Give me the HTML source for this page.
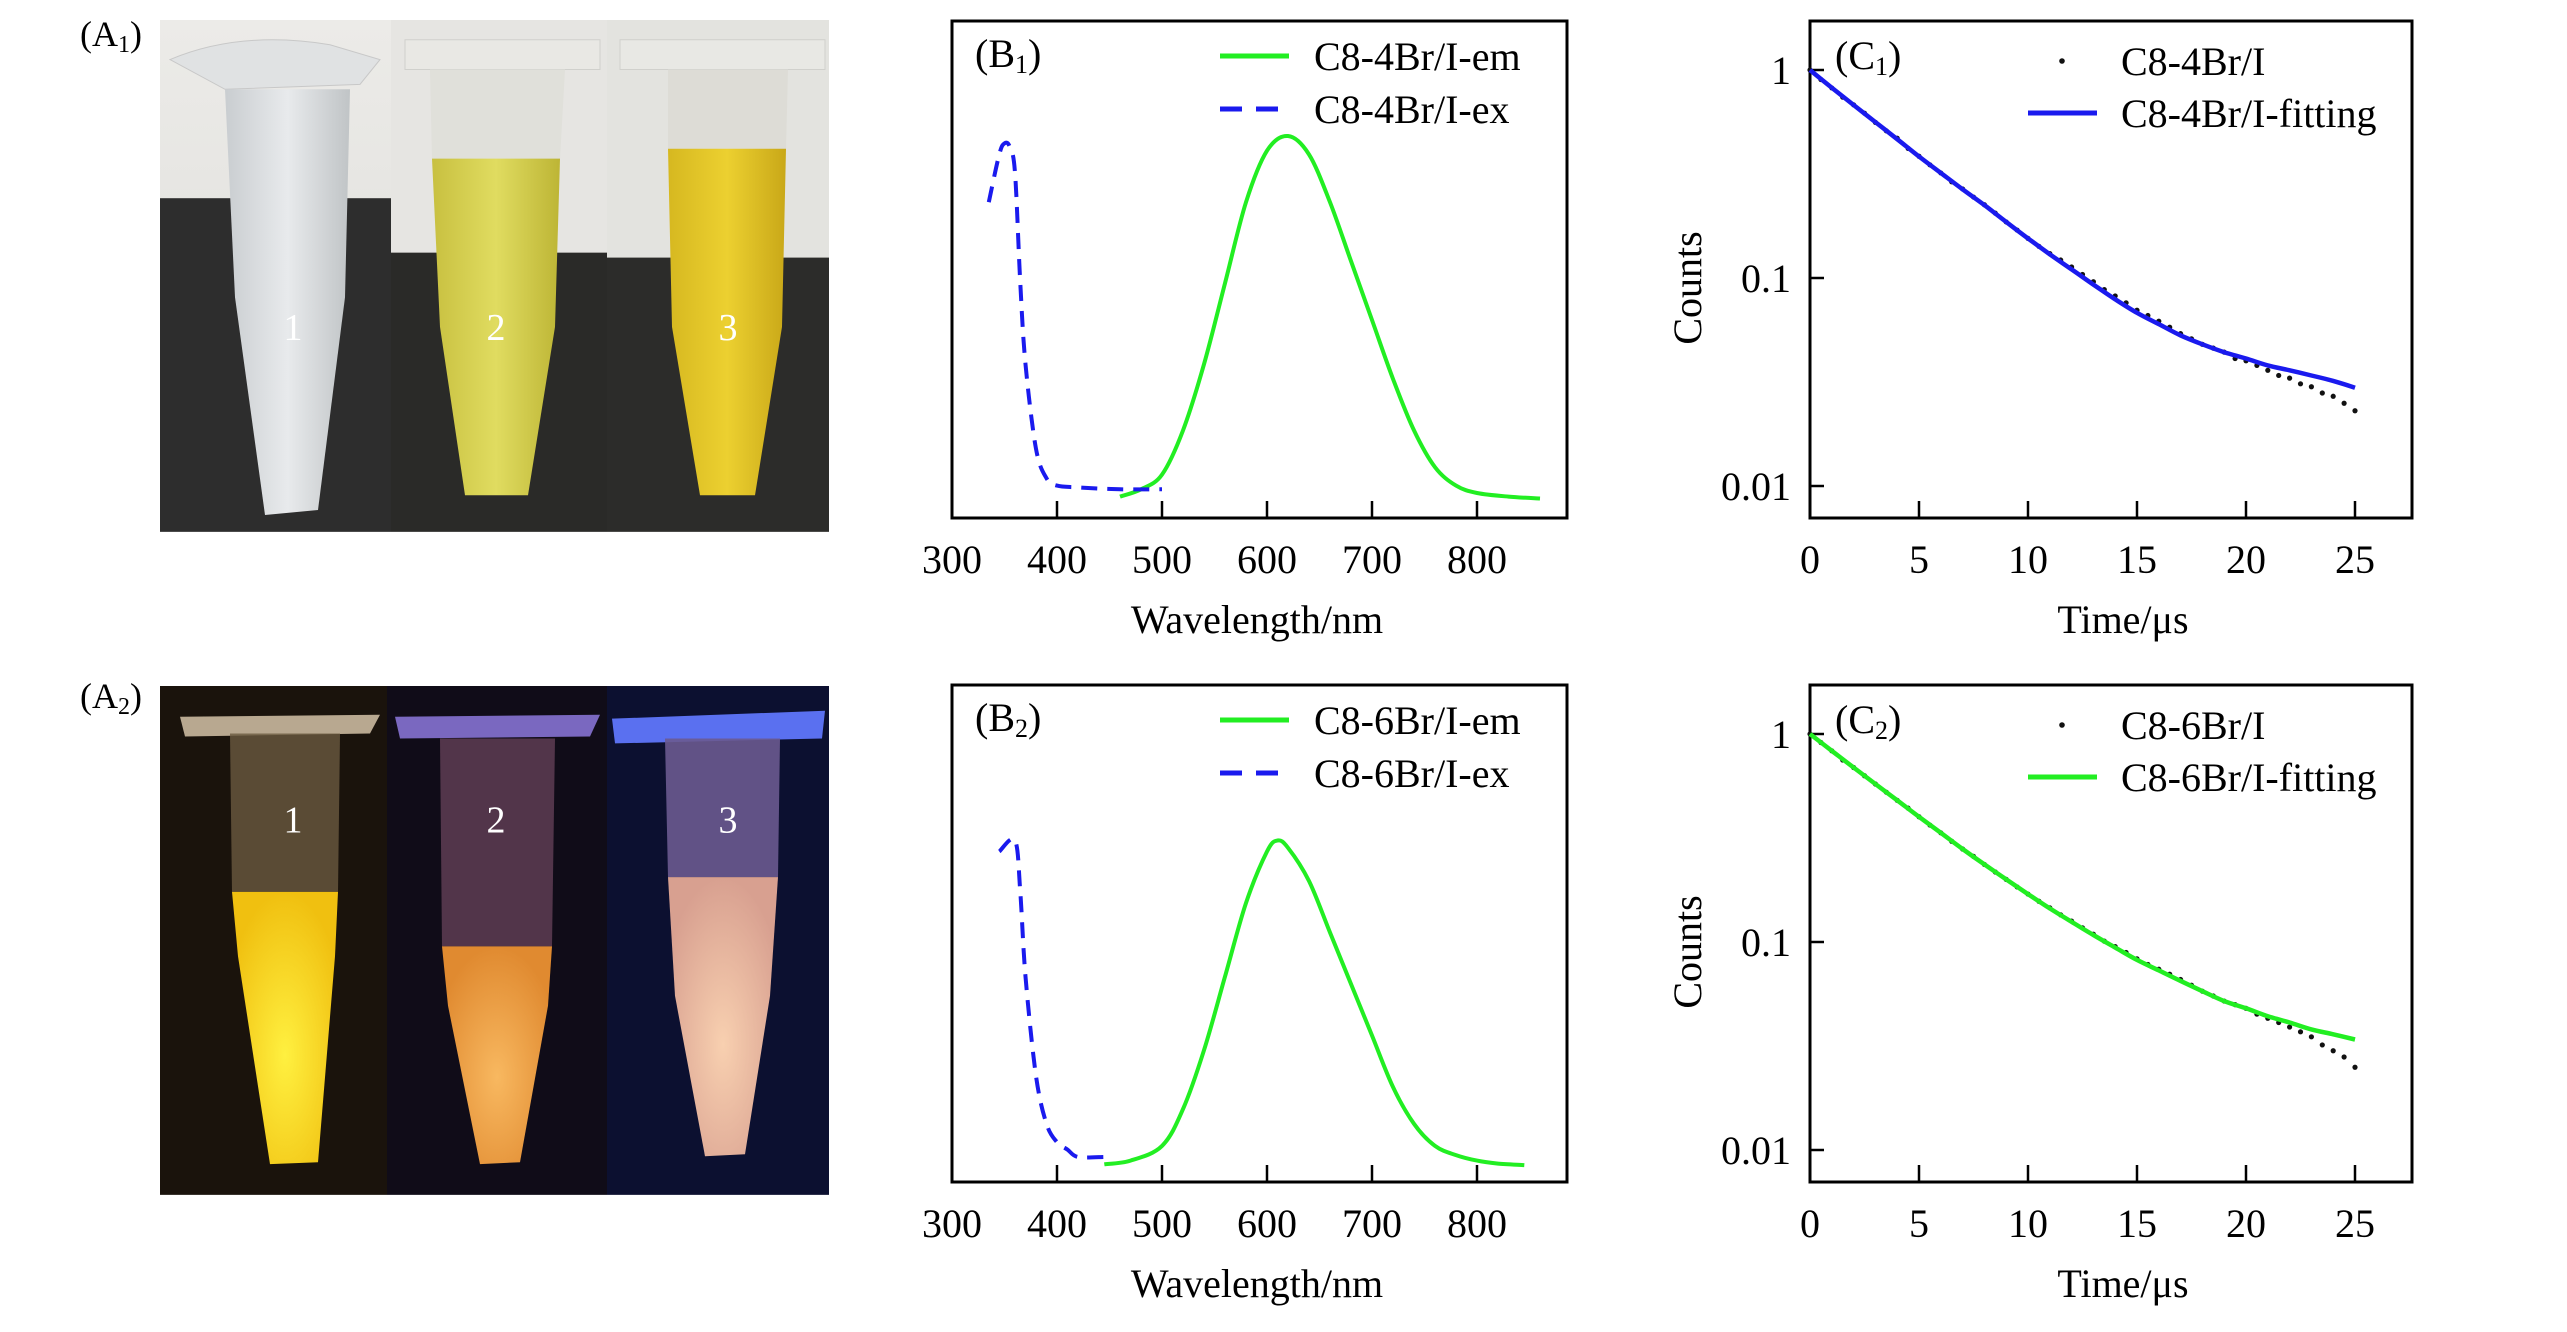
<!DOCTYPE html>
<html><head><meta charset="utf-8"><style>
html,body{margin:0;padding:0;background:#fff;}
svg{display:block;font-family:"Liberation Serif","Times New Roman",serif;}
</style></head><body>
<svg id="fig" width="2567" height="1332" viewBox="0 0 2567 1332" xmlns="http://www.w3.org/2000/svg">
<defs>
<linearGradient id="wall" x1="0" y1="0" x2="0" y2="1"><stop offset="0" stop-color="#ecebe8"/><stop offset="1" stop-color="#dcdcd8"/></linearGradient>
<linearGradient id="clear" x1="0" y1="0" x2="1" y2="0"><stop offset="0" stop-color="#c9cdd0"/><stop offset=".5" stop-color="#e8eaec"/><stop offset="1" stop-color="#c0c4c6"/></linearGradient>
<linearGradient id="yel" x1="0" y1="0" x2="1" y2="0"><stop offset="0" stop-color="#c8c040"/><stop offset=".5" stop-color="#e0dc60"/><stop offset="1" stop-color="#bdb535"/></linearGradient>
<linearGradient id="yel2" x1="0" y1="0" x2="1" y2="0"><stop offset="0" stop-color="#d6b820"/><stop offset=".5" stop-color="#ecd030"/><stop offset="1" stop-color="#c9a818"/></linearGradient>
<radialGradient id="glowY" cx=".5" cy=".6" r=".6"><stop offset="0" stop-color="#fff040"/><stop offset="1" stop-color="#f0c010"/></radialGradient>
<radialGradient id="glowO" cx=".5" cy=".6" r=".6"><stop offset="0" stop-color="#f8b860"/><stop offset="1" stop-color="#e08a30"/></radialGradient>
<radialGradient id="glowP" cx=".5" cy=".6" r=".6"><stop offset="0" stop-color="#f8d0b0"/><stop offset="1" stop-color="#d8a090"/></radialGradient>
</defs>

<g>
<text x="80" y="46" font-size="36">(A<tspan font-size="24" dy="6">1</tspan><tspan dy="-6">)</tspan></text>
<g transform="translate(160 20) scale(1 0.99) translate(-160 -20)">
<rect x="160" y="20" width="231" height="517" fill="url(#wall)"/>
<rect x="160" y="200" width="231" height="337" fill="#2d2d2d"/>
<rect x="391" y="20" width="216" height="517" fill="#e6e5e2"/>
<rect x="391" y="255" width="216" height="282" fill="#2a2a28"/>
<rect x="607" y="20" width="222" height="517" fill="#e3e3df"/>
<rect x="607" y="260" width="222" height="277" fill="#2c2c2a"/>
<path d="M170 60 Q240 30 330 45 L380 60 L360 85 L225 90 Z" fill="#e0e2e3" stroke="#c8c8c8"/>
<path d="M225 90 L350 90 L345 300 L318 515 L265 520 L235 300 Z" fill="url(#clear)"/>
<path d="M405 40 L600 40 L600 70 L405 70 Z" fill="#e9e8e4" stroke="#d0d0cc"/>
<path d="M430 70 L565 70 L560 160 L432 160 Z" fill="#e0e0da"/>
<path d="M432 160 L560 160 L555 330 L528 500 L465 500 L440 330 Z" fill="url(#yel)"/>
<path d="M620 40 L825 40 L825 70 L620 70 Z" fill="#e8e8e4" stroke="#d0d0cc"/>
<path d="M668 70 L788 70 L786 150 L668 150 Z" fill="#dddcd6"/>
<path d="M668 150 L786 150 L782 330 L755 500 L700 500 L672 330 Z" fill="url(#yel2)"/>
<text x="293" y="343" font-size="38" fill="#fff" text-anchor="middle">1</text>
<text x="496" y="343" font-size="38" fill="#fff" text-anchor="middle">2</text>
<text x="728" y="343" font-size="38" fill="#fff" text-anchor="middle">3</text>
</g>
</g>
<g>
<text x="80" y="708" font-size="36">(A<tspan font-size="24" dy="6">2</tspan><tspan dy="-6">)</tspan></text>
<g transform="translate(160 686) scale(1 0.99) translate(-160 -687)">
<rect x="160" y="687" width="227" height="514" fill="#1a130c"/>
<rect x="387" y="687" width="220" height="514" fill="#100c18"/>
<rect x="607" y="687" width="222" height="514" fill="#0c1030"/>
<path d="M180 718 L380 716 L370 735 L185 738 Z" fill="#b8a890"/>
<path d="M230 735 L340 735 L338 895 L232 895 Z" fill="#6a5a40" opacity=".8"/>
<path d="M232 895 L338 895 L335 960 L318 1168 L270 1170 L238 960 Z" fill="url(#glowY)"/>
<path d="M395 718 L600 716 L590 738 L400 740 Z" fill="#7a68c0"/>
<path d="M440 740 L555 740 L552 950 L442 950 Z" fill="#5a3a50" opacity=".9"/>
<path d="M442 950 L552 950 L548 1010 L520 1168 L480 1170 L448 1010 Z" fill="url(#glowO)"/>
<path d="M612 720 L825 712 L822 740 L615 745 Z" fill="#5a70f0"/>
<path d="M665 740 L780 740 L778 880 L668 880 Z" fill="#6a5a90" opacity=".9"/>
<path d="M668 880 L778 880 L770 1000 L745 1160 L705 1162 L675 1000 Z" fill="url(#glowP)"/>
<text x="293" y="835" font-size="38" fill="#fff" text-anchor="middle">1</text>
<text x="496" y="835" font-size="38" fill="#fff" text-anchor="middle">2</text>
<text x="728" y="835" font-size="38" fill="#fff" text-anchor="middle">3</text>
</g>
</g>
<g id="charts" transform="translate(5 1)"></g>
</svg>
<script>
const emWl1 = [460,480,500,520,540,560,580,600,620,640,660,680,700,720,740,760,780,800,830,860];
const emI1  = [0.02,0.04,0.08,0.2,0.38,0.6,0.82,0.96,1.0,0.95,0.82,0.66,0.5,0.34,0.2,0.1,0.05,0.03,0.02,0.015];
const exWl1 = [335,345,350,355,360,365,370,380,390,400,420,460,500];
const exI1  = [0.82,0.95,0.98,0.97,0.9,0.6,0.38,0.15,0.07,0.05,0.045,0.04,0.04];
const emWl2 = [445,470,500,520,540,560,580,600,610,620,640,660,680,700,720,740,760,780,800,820,845];
const emI2  = [0.01,0.02,0.06,0.16,0.32,0.52,0.72,0.86,0.89,0.87,0.78,0.64,0.5,0.36,0.22,0.12,0.06,0.035,0.02,0.012,0.008];
const exWl2 = [345,360,365,370,380,390,400,410,420,445];
const exI2  = [0.86,0.89,0.75,0.52,0.25,0.12,0.07,0.05,0.03,0.03];
const bTicks = [300,400,500,600,700,800];
const fitT = [0,1,2,3,4,5,6,7,8,9,10,11,12,13,14,15,16,17,18,19,20,21,22,23,24,25];
const fit1 = [1,0.822,0.679,0.562,0.465,0.384,0.32,0.267,0.224,0.186,0.155,0.13,0.11,0.093,0.079,0.068,0.06,0.053,0.048,0.044,0.041,0.038,0.036,0.034,0.032,0.0297];
const fit2 = [1,0.83,0.69,0.575,0.48,0.4,0.335,0.28,0.236,0.2,0.17,0.145,0.125,0.108,0.094,0.082,0.073,0.065,0.058,0.052,0.048,0.044,0.041,0.038,0.036,0.034];
const ptsT = [0,0.5,1,1.5,2,2.5,3,3.5,4,4.5,5,5.5,6,6.5,7,7.5,8,8.5,9,9.5,10,10.5,11,11.5,12,12.5,13,13.5,14,14.5,15,15.5,16,16.5,17,17.5,18,18.5,19,19.5,20,20.5,21,21.5,22,22.5,23,23.5,24,24.5,25];
const pts1 = [1.0,0.9,0.82,0.74,0.68,0.62,0.56,0.51,0.47,0.42,0.385,0.35,0.32,0.29,0.268,0.245,0.225,0.205,0.186,0.17,0.155,0.142,0.131,0.122,0.113,0.104,0.096,0.088,0.082,0.076,0.07,0.066,0.062,0.058,0.054,0.051,0.048,0.046,0.044,0.041,0.04,0.038,0.036,0.034,0.033,0.031,0.03,0.028,0.027,0.025,0.023];
const pts2 = [1.0,0.91,0.83,0.75,0.69,0.63,0.575,0.525,0.48,0.44,0.4,0.365,0.335,0.305,0.28,0.258,0.236,0.217,0.2,0.184,0.17,0.157,0.146,0.135,0.126,0.117,0.109,0.101,0.095,0.089,0.083,0.078,0.074,0.07,0.066,0.062,0.058,0.055,0.052,0.05,0.048,0.045,0.043,0.041,0.039,0.037,0.035,0.032,0.03,0.028,0.025];
const cXTicks = [0,5,10,15,20,25];
const cYTicks = [1,0.1,0.01];
const cYLabels = ["1","0.1","0.01"];

const NS = "http://www.w3.org/2000/svg";
const root = document.getElementById('charts');
function mk(tag, attrs, parent){const e=document.createElementNS(NS,tag);for(const k in attrs)e.setAttribute(k,attrs[k]);(parent||root).appendChild(e);return e;}
function smooth(P){
  let d='M'+P[0][0].toFixed(1)+' '+P[0][1].toFixed(1);
  for(let i=0;i<P.length-1;i++){
    const p0=P[Math.max(0,i-1)],p1=P[i],p2=P[i+1],p3=P[Math.min(P.length-1,i+2)];
    const c1=[p1[0]+(p2[0]-p0[0])/6,p1[1]+(p2[1]-p0[1])/6];
    const c2=[p2[0]-(p3[0]-p1[0])/6,p2[1]-(p3[1]-p1[1])/6];
    d+=' C'+c1[0].toFixed(1)+' '+c1[1].toFixed(1)+' '+c2[0].toFixed(1)+' '+c2[1].toFixed(1)+' '+p2[0].toFixed(1)+' '+p2[1].toFixed(1);
  }
  return d;
}

function drawB(oy, idx, emW, emV, exW, exV, emName, exName){
  const g = mk('g',{});
  
  
  const L=947,R=1562,T=20+oy,B=517+oy;
  const x = nm => L + (nm-300)*1.05;
  const y = v => oy + 503 - v*368;
  const box = mk('rect',{x:L,y:T,width:R-L,height:B-T,fill:'none',stroke:'#000','stroke-width':3},g);
  
  
  bTicks.forEach(t=>{
    if(t>300){const tk=mk('line',{x1:x(t),x2:x(t),y1:B,y2:B-17,stroke:'#000','stroke-width':2.5},g);
    
    }
    const lb=mk('text',{x:x(t),y:B+55,'font-size':40,'text-anchor':'middle'},g);lb.textContent=t;
    
    
  });
  const at=mk('text',{x:1252,y:B+115,'font-size':40,'text-anchor':'middle'},g);at.textContent='Wavelength/nm';
  
  
  const em=mk('path',{d:smooth(emW.map((w,i)=>[x(w),y(emV[i])])),fill:'none',stroke:'#22ee22','stroke-width':4,'stroke-linejoin':'round'},g);
  
  
  const ex=mk('path',{d:smooth(exW.map((w,i)=>[x(w),y(exV[i])])),fill:'none',stroke:'#1a1aee','stroke-width':4,'stroke-dasharray':'16 10'},g);
  
  
  const pl=mk('text',{x:970,y:T+46,'font-size':40},g);pl.innerHTML='(B<tspan font-size="26" dy="6">'+idx+'</tspan><tspan dy="-6">)</tspan>';
  
  
  const l1=mk('line',{x1:1215,x2:1284,y1:T+35,y2:T+35,stroke:'#22ee22','stroke-width':5},g);
  
  
  const t1=mk('text',{x:1309,y:T+49,'font-size':40},g);t1.textContent=emName;
  
  
  const l2=mk('line',{x1:1215,x2:1284,y1:T+88,y2:T+88,stroke:'#1a1aee','stroke-width':5,'stroke-dasharray':'22 14'},g);
  
  
  const t2=mk('text',{x:1309,y:T+102,'font-size':40},g);t2.textContent=exName;
  
  
}

function drawC(oy, idx, pts, fit, color, ptName, fitName){
  const g = mk('g',{});
  
  
  const L=1805,R=2407,T=20+oy,B=517+oy;
  const x = t => L + t*21.8;
  const y = v => oy + 69 - Math.log10(v)*208;
  const box=mk('rect',{x:L,y:T,width:R-L,height:B-T,fill:'none',stroke:'#000','stroke-width':3},g);
  
  
  cXTicks.forEach(t=>{
    if(t>0){const tk=mk('line',{x1:x(t),x2:x(t),y1:B,y2:B-17,stroke:'#000','stroke-width':2.5},g);
    
    }
    const lb=mk('text',{x:x(t),y:B+55,'font-size':40,'text-anchor':'middle'},g);lb.textContent=t;
    
    
  });
  cYTicks.forEach((v,i)=>{
    const tk=mk('line',{x1:L,x2:L+14,y1:y(v),y2:y(v),stroke:'#000','stroke-width':2.5},g);
    
    
    const lb=mk('text',{x:1786,y:y(v)+14,'font-size':40,'text-anchor':'end'},g);lb.textContent=cYLabels[i];
    
    
  });
  const xt=mk('text',{x:2118,y:B+115,'font-size':40,'text-anchor':'middle'},g);xt.textContent='Time/\u03bcs';
  
  
  const yt=mk('text',{x:0,y:0,'font-size':40,'text-anchor':'middle',transform:'translate(1696 '+(287+oy)+') rotate(-90)'},g);yt.textContent='Counts';
  
  
  ptsT.forEach((t,i)=>{
    const c=mk('circle',{cx:x(t),cy:y(pts[i]),r:2.6,fill:'#111'},g);
    
    
  });
  const fl=mk('path',{d:smooth(fitT.map((t,i)=>[x(t),y(fit[i])])),fill:'none',stroke:color,'stroke-width':4.5,'stroke-linejoin':'round'},g);
  
  
  const pl=mk('text',{x:1830,y:T+48,'font-size':40},g);pl.innerHTML='(C<tspan font-size="26" dy="6">'+idx+'</tspan><tspan dy="-6">)</tspan>';
  
  
  const d=mk('circle',{cx:2057,cy:T+40,r:2.8,fill:'#111'},g);
  
  
  const t1=mk('text',{x:2116,y:T+54,'font-size':40},g);t1.textContent=ptName;
  
  
  const l2=mk('line',{x1:2023,x2:2092,y1:T+92,y2:T+92,stroke:color,'stroke-width':5},g);
  
  
  const t2=mk('text',{x:2116,y:T+106,'font-size':40},g);t2.textContent=fitName;
  
  
}

drawB(0,1,emWl1,emI1,exWl1,exI1,'C8-4Br/I-em','C8-4Br/I-ex');
drawB(664,2,emWl2,emI2,exWl2,exI2,'C8-6Br/I-em','C8-6Br/I-ex');
drawC(0,1,pts1,fit1,'#1a1aee','C8-4Br/I','C8-4Br/I-fitting');
drawC(664,2,pts2,fit2,'#22ee22','C8-6Br/I','C8-6Br/I-fitting');
</script>
</body></html>
